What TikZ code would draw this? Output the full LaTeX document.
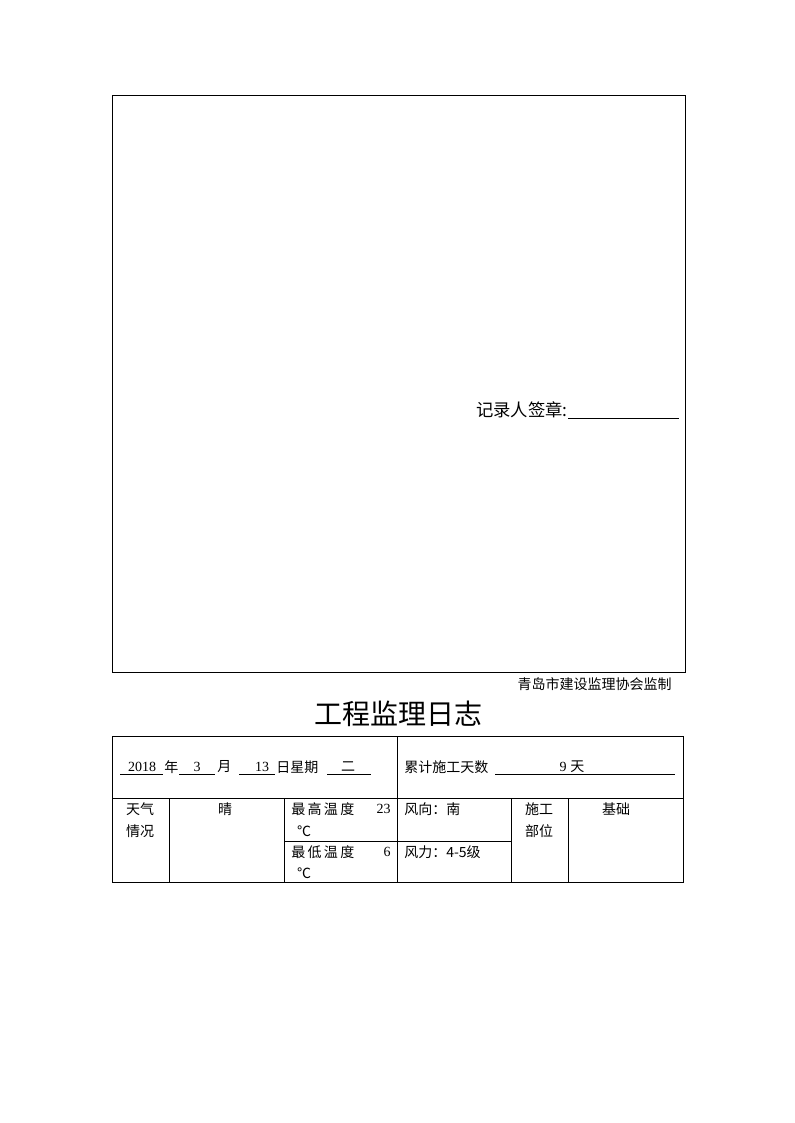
\documentclass[tikz,border=0pt]{standalone}
\usepackage{fontspec}
\setmainfont{Liberation Serif}
\newfontfamily\cjk{Noto Sans CJK SC}
\usetikzlibrary{positioning}

\begin{document}
\begin{tikzpicture}[x=0.75pt, y=-0.75pt,
	every node/.style={
	    inner sep=0pt,
	    font=\cjk\fontsize{10.5}{13}\selectfont,
	    },
	num/.style={font=\fontsize{10.5}{13}\selectfont},
	rule/.style={draw, line width=0.75pt},
	uline/.style={draw, line width=0.6pt}]

	\useasboundingbox (0,0) rectangle (794,1123);

	% record box
	\draw[rule] (112,96) rectangle (685,672);
	\node[anchor=west, font=\cjk\fontsize{13}{15}\selectfont] (sign) at (476,410) {记录人签章:};
	\coordinate (signend) at (679,418);
	\draw[uline] (sign.east |- signend) -- (signend);

	\node[anchor=east] (org) at (672,684) {青岛市建设监理协会监制};
	\node[font=\cjk\fontsize{21}{24}\selectfont] (title) at (398,714) {工程监理日志};

	% table frame
	\draw[rule] (112,736) rectangle (683,882);
	\draw[rule] (112,798) -- (683,798);
	\draw[rule] (397,736) -- (397,882);
	\draw[rule] (169,798) -- (169,882);
	\draw[rule] (284,798) -- (284,882);
	\draw[rule] (511,798) -- (511,882);
	\draw[rule] (568,798) -- (568,882);
	\draw[rule] (284,841) -- (511,841);

	% date line
	\node[num] (year) at (142,767) {2018};
	\node[anchor=west] (nian) at (164,767) {年};
	\node[num] (month) at (197,767) {3};
	\node[anchor=west] (yue) at (217,767) {月};
	\node[num] (day) at (262,767) {13};
	\node[anchor=west] (ri) at (276,767) {日星期};
	\node (week) at (348,767) {二};
	\draw[uline] (120,774) -- (163,774);
	\draw[uline] (179,774) -- (215,774);
	\draw[uline] (239,774) -- (275,774);
	\draw[uline] (327,774) -- (371,774);

	\node[anchor=west] (total) at (404,767) {累计施工天数};
	\node[num] (days) at (563,767) {9};
	\node[anchor=west] (tian) at (570,767) {天};
	\draw[uline] (495,774) -- (675,774);

	% weather row
	\node[align=center, font=\cjk\fontsize{10.5}{16}\selectfont] (wlabel) at (140,820) {天气\\情况};
	\node (sky) at (225,809) {晴};
	\node[anchor=west] (tmax) at (291,809) {最\,高\,温\,度};
	\node[num, anchor=east] (tmaxv) at (391,809) {23};
	\node (tmaxu) at (304,831) {℃};
	\node[anchor=west] (tmin) at (291,852) {最\,低\,温\,度};
	\node[num, anchor=east] (tminv) at (391,852) {6};
	\node (tminu) at (304,873) {℃};
	\node[anchor=west] (wdir) at (404,809) {风向：南};
	\node[anchor=west] (wforce) at (404,852) {风力：4-5级};
	\node[align=center, font=\cjk\fontsize{10.5}{16}\selectfont] (plabel) at (539,820) {施工\\部位};
	\node (part) at (616,809) {基础};

\end{tikzpicture}
\end{document}
